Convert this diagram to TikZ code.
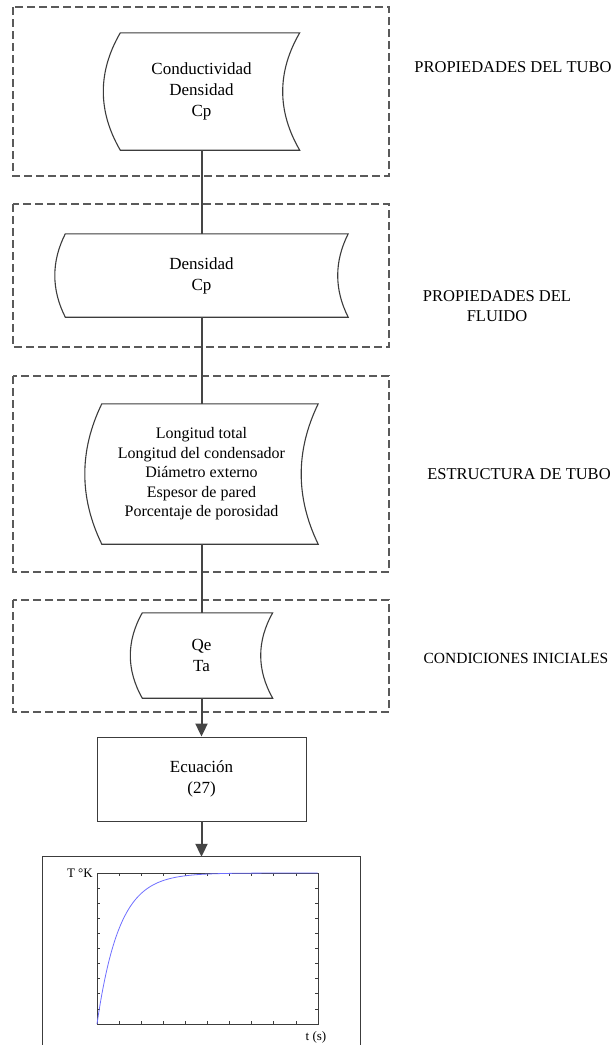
\documentclass[tikz,border=0pt]{standalone}
\usepackage{fontspec}
\setmainfont{Liberation Serif}
\usetikzlibrary{calc,arrows.meta}
\definecolor{shapecol}{HTML}{3C3C3C}
\definecolor{dashcol}{HTML}{5A5A5A}
\definecolor{conncol}{HTML}{454545}
\definecolor{curvecol}{HTML}{6F6FFF}
\newcommand\storedpath[3]{%
  \draw[shp] ($(#1.north west)+(#2,0)$) -- (#1.north east)
    .. controls ($(#1.north east)+(-4/3*#2,#3)$) and ($(#1.south east)+(-4/3*#2,-#3)$) .. (#1.south east)
    -- ($(#1.south west)+(#2,0)$)
    .. controls ($(#1.south west)+(#2-4/3*#2,-#3)$) and ($(#1.north west)+(#2-4/3*#2,#3)$) .. cycle;}
\begin{document}
\begin{tikzpicture}[x=1pt,y=-1pt,
  shp/.style={draw=shapecol, line width=1.1pt},
  dbox/.style={draw=dashcol, line width=1.1pt, dash pattern=on 8pt off 4pt},
  conn/.style={draw=conncol, line width=2pt},
  arr/.style={conn, -{Triangle[width=12pt,length=13pt]}},
  area/.style 2 args={minimum width=#1pt, minimum height=#2pt, inner sep=0pt, align=center},
  txt/.style={font=\fontsize{17}{21}\selectfont},
  smalltxt/.style={font=\fontsize{16}{19.5}\selectfont},
  lbl/.style={font=\fontsize{16.5}{20}\selectfont, align=center, inner sep=0pt},
  axis/.style={draw=shapecol, line width=0.9pt},
  tick/.style={draw=shapecol, line width=0.7pt},
  axlbl/.style={font=\fontsize{13}{15}\selectfont, inner sep=0pt}]
\fill[white] (0,0) rectangle (614,1045);
\useasboundingbox (0,0) rectangle (614,1045);

% dashed group boxes
\draw[dbox] (13,7) rectangle (389,176);
\draw[dbox] (13,204) rectangle (389,347);
\draw[dbox] (13,376) rectangle (389,572);
\draw[dbox] (13,600) rectangle (389,712);

% stored-data shapes
\node[area={196}{117}, txt] (s1) at (201.5,91.5) {Conductividad\\Densidad\\Cp};
\node[area={293}{83}, txt] (s2) at (201.5,275.5) {Densidad\\Cp};
\node[area={233}{140}, smalltxt] (s3) at (201.5,474) {Longitud total\\Longitud del condensador\\Diámetro externo\\Espesor de pared\\Porcentaje de porosidad};
\node[area={142}{85}, txt] (s4) at (201.5,655.5) {Qe\\Ta};
\storedpath{s1}{17}{39}
\storedpath{s2}{10.5}{27.7}
\storedpath{s3}{17}{46.7}
\storedpath{s4}{12}{28.3}

% equation box
\node[area={209}{84}, txt, draw=shapecol, line width=0.9pt] (eq) at (201.5,779) {Ecuación\\(27)};

% plot frame (open at the bottom edge of the picture)
\node[area={318}{188}] (pf) at (201.5,951) {};
\draw[shp] (pf.south west) -- (pf.north west) -- (pf.north east) -- (pf.south east);

% connectors
\draw[conn] (s1.south) -- (s2.north);
\draw[conn] (s2.south) -- (s3.north);
\draw[conn] (s3.south) -- (s4.north);
\draw[arr] (s4.south) -- (eq.north);
\draw[arr] (eq.south) -- (pf.north);

% plot
\draw[axis] (97,873) rectangle (318,1024);
\foreach \i in {1,...,9}{
  \draw[tick] ({97+22.1*\i},1024) -- ++(0,-3);
  \draw[tick] ({97+22.1*\i},873) -- ++(0,3);
  \draw[tick] (97,{873+15.1*\i}) -- ++(3,0);
  \draw[tick] (318,{873+15.1*\i}) -- ++(-3,0);
}
\draw[curvecol, line width=0.8pt] plot[domain=0:1, samples=120, smooth] ({97+221*\x},{1024-151*(1-exp(-\x/0.1))});
\node[axlbl, anchor=east] (tlab) at (93,873) {T °K};
\node[axlbl] (slab) at (316,1037) {t (s)};

% side labels
\node[lbl] (l1) at (513,67) {PROPIEDADES DEL TUBO};
\node[lbl] (l2) at (497,306) {PROPIEDADES DEL\\FLUIDO};
\node[lbl] (l3) at (519,474) {ESTRUCTURA DE TUBO};
\node[lbl, font=\fontsize{15.5}{19}\selectfont] (l4) at (516,658) {CONDICIONES INICIALES};
\end{tikzpicture}
\end{document}
